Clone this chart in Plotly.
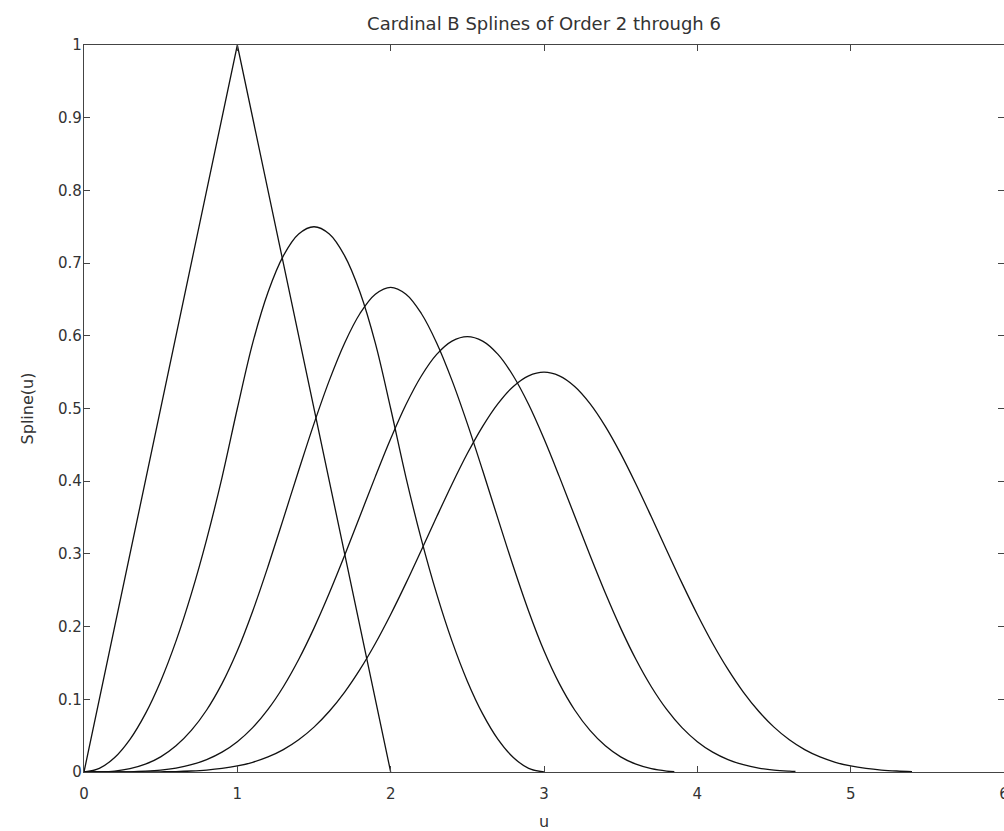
import plotly.graph_objects as go

# Sample positions along u (in steps of 0.1)
u_samples = [0.0, 0.1, 0.2, 0.3, 0.4, 0.5, 0.6, 0.7, 0.8, 0.9,
             1.0, 1.1, 1.2, 1.3, 1.4, 1.5, 1.6, 1.7, 1.8, 1.9,
             2.0, 2.1, 2.2, 2.3, 2.4, 2.5, 2.6, 2.7, 2.8, 2.9,
             3.0, 3.1, 3.2, 3.3, 3.4, 3.5, 3.6, 3.7, 3.8, 3.9,
             4.0, 4.1, 4.2, 4.3, 4.4, 4.5, 4.6, 4.7, 4.8, 4.9,
             5.0, 5.1, 5.2, 5.3, 5.4]

# Order 2 (hat)
u_order2 = [0, 1, 2]
s_order2 = [0, 1, 0]

# Order 3
s_order3 = [0, 0.005, 0.02, 0.045, 0.08, 0.125, 0.18, 0.245, 0.32, 0.405,
            0.5, 0.59, 0.66, 0.71, 0.74, 0.75, 0.74, 0.71, 0.66, 0.59,
            0.5, 0.405, 0.32, 0.245, 0.18, 0.125, 0.08, 0.045, 0.02, 0.005, 0]
u_order3 = u_samples[:len(s_order3)]

# Order 4
s_order4 = [0, 0.0002, 0.0013, 0.0045, 0.0107, 0.0208, 0.036, 0.0572, 0.0853, 0.1215,
            0.1667, 0.2212, 0.2827, 0.3482, 0.4147, 0.4792, 0.5387, 0.5902, 0.6307, 0.6572,
            0.6667, 0.6572, 0.6307, 0.5902, 0.5387, 0.4792, 0.4147, 0.3482, 0.2827, 0.2212,
            0.1667, 0.1215, 0.0853, 0.0572, 0.036, 0.0208, 0.0107, 0.0045, 0.0013]
u_order4 = u_samples[:len(s_order4)] + [3.85]
s_order4 = s_order4 + [0.0006]

# Order 5
s_order5 = [0, 0.0, 0.0001, 0.0003, 0.0011, 0.0026, 0.0054, 0.01, 0.0171, 0.0273,
            0.0417, 0.061, 0.0861, 0.1173, 0.1547, 0.1979, 0.2461, 0.298, 0.3521, 0.4063,
            0.4583, 0.5054, 0.5447, 0.5744, 0.5927, 0.599, 0.5927, 0.5744, 0.5447, 0.5054,
            0.4583, 0.4063, 0.3521, 0.298, 0.2461, 0.1979, 0.1547, 0.1173, 0.0861, 0.061,
            0.0417, 0.0273, 0.0171, 0.01, 0.0054, 0.0026, 0.0011]
u_order5 = u_samples[:len(s_order5)] + [4.64]
s_order5 = s_order5 + [0.0007]

# Order 6
s_order6 = [0, 0.0, 0.0, 0.0, 0.0001, 0.0003, 0.0006, 0.0014, 0.0027, 0.0049,
            0.0083, 0.0134, 0.0207, 0.0308, 0.0443, 0.0617, 0.0835, 0.1099, 0.1411, 0.1768,
            0.2167, 0.2598, 0.3051, 0.351, 0.3959, 0.438, 0.4755, 0.5068, 0.5304, 0.545,
            0.55, 0.545, 0.5304, 0.5068, 0.4755, 0.438, 0.3959, 0.351, 0.3051, 0.2598,
            0.2167, 0.1768, 0.1411, 0.1099, 0.0835, 0.0617, 0.0443, 0.0308, 0.0207, 0.0134,
            0.0083, 0.0049, 0.0027, 0.0014, 0.0006]
u_order6 = u_samples[:len(s_order6)]

x_ticks = [0, 1, 2, 3, 4, 5, 6]
y_ticks = [0, 0.1, 0.2, 0.3, 0.4, 0.5, 0.6, 0.7, 0.8, 0.9, 1]
y_tick_labels = ["0", "0.1", "0.2", "0.3", "0.4", "0.5", "0.6", "0.7", "0.8", "0.9", "1"]

series = [
    (u_order2, s_order2, "linear"),
    (u_order3, s_order3, "spline"),
    (u_order4, s_order4, "spline"),
    (u_order5, s_order5, "spline"),
    (u_order6, s_order6, "spline"),
]

fig = go.Figure()
for xs, ys, shape in series:
    fig.add_trace(go.Scatter(
        x=xs, y=ys, mode="lines",
        line=dict(color="#111111", width=1.3, shape=shape),
        showlegend=False, hoverinfo="skip",
    ))

font = "DejaVu Sans, Verdana, sans-serif"
text_color = "#333333"
axis_common = dict(
    showline=True, linecolor="#444444", linewidth=1.2, mirror="ticks",
    ticks="inside", ticklen=6, tickcolor="#444444", tickwidth=1.2,
    showgrid=False, zeroline=False, automargin=False,
    ticklabeloverflow="allow",
    tickfont=dict(family=font, size=15, color=text_color),
)

fig.update_layout(
    width=1004, height=831,
    margin=dict(l=84, r=0, t=45, b=59),
    paper_bgcolor="white", plot_bgcolor="white",
    title=dict(text="Cardinal B Splines of Order 2 through 6",
               x=(84 + 1004) / 2 / 1004, xanchor="center",
               y=1 - 24 / 831, yanchor="middle",
               font=dict(family=font, size=18, color=text_color)),
    xaxis=dict(range=[0, 6], tickvals=x_ticks, ticklabelstandoff=8,
               title=dict(text="u", font=dict(family=font, size=16, color=text_color), standoff=14),
               **axis_common),
    yaxis=dict(range=[0, 1], tickvals=y_ticks, ticktext=y_tick_labels, ticklabelstandoff=-2,
               title=dict(text="Spline(u)", font=dict(family=font, size=16, color=text_color), standoff=20),
               **axis_common),
)

fig.write_html(
    "out.html",
    config={"displayModeBar": False},
    post_script="document.body.style.margin='0';document.body.style.overflow='hidden';",
)
